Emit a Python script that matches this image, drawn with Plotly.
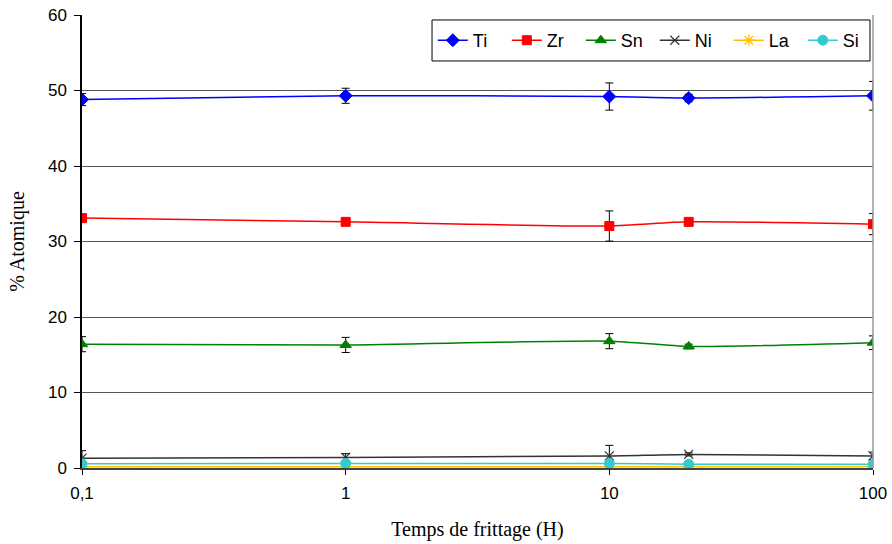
import plotly.graph_objects as go

times = [0.1, 1, 10, 20, 100]

ti = [48.8, 49.3, 49.2, 49.0, 49.3]
ti_err = [0.8, 1.0, 1.8, 0.5, 1.9]
zr = [33.1, 32.6, 32.05, 32.6, 32.3]
zr_err = [0.3, 0.3, 2.0, 0.3, 1.4]
sn = [16.4, 16.3, 16.8, 16.1, 16.6]
sn_err = [1.0, 1.0, 1.0, 0.3, 0.9]
ni = [1.3, 1.4, 1.6, 1.8, 1.6]
ni_err = [1.0, 0.5, 1.4, 0.2, 0.5]
la = [0.15, 0.15, 0.15, 0.15, 0.15]
la_err = [0.2, 0.2, 0.2, 0.2, 0.2]
si = [0.55, 0.6, 0.6, 0.5, 0.5]
si_err = [0.1, 0.1, 0.1, 0.1, 0.1]

x_tickvals = [0.1, 1, 10, 100]
x_ticktext = ["0,1", "1", "10", "100"]
y_tickvals = [0, 10, 20, 30, 40, 50, 60]

series = [
    ("Ti", ti, ti_err, "#0000FF", "diamond", 10, 1),
    ("Zr", zr, zr_err, "#FF0000", "square", 9, 1),
    ("Sn", sn, sn_err, "#008000", "triangle-up", 10, 1),
    ("Ni", ni, ni_err, "#333333", "x-thin-open", 9, 1.2),
    ("La", la, la_err, "#FFC000", "asterisk-open", 10, 1.2),
    ("Si", si, si_err, "#33CCCC", "circle", 10, 1),
]

fig = go.Figure()
for name, vals, errs, color, sym, size, lw in series:
    fig.add_trace(go.Scatter(
        x=times, y=vals, name=name, mode="lines+markers",
        line=dict(color=color, width=1.5, shape="spline", smoothing=0.6),
        marker=dict(symbol=sym, size=size, color=color, line=dict(color=color, width=lw)),
        error_y=dict(type="data", array=errs, visible=True, color="black", thickness=1, width=4),
    ))

# right border of plot area
fig.add_shape(type="line", xref="paper", yref="paper", x0=1, x1=1, y0=0, y1=1,
              line=dict(color="#999999", width=1.5))
# legend frame
fig.add_shape(type="rect", xref="paper", yref="paper", x0=0.4425, x1=0.9962, y0=0.8985, y1=0.989,
              line=dict(color="black", width=1), fillcolor="white", layer="above")

fig.update_layout(
    width=892, height=544,
    margin=dict(l=82, r=19, t=15, b=76, autoexpand=False),
    paper_bgcolor="white", plot_bgcolor="white",
    showlegend=True,
    legend=dict(orientation="h", x=0.4435, y=0.9437, xanchor="left", yanchor="middle",
                borderwidth=0, bgcolor="rgba(0,0,0,0)",
                font=dict(family="Liberation Sans, Arial", size=18, color="black"),
                itemwidth=30, entrywidth=29, entrywidthmode="pixels"),
    font=dict(family="Liberation Sans, Arial", size=17, color="black"),
)
fig.update_xaxes(
    type="log", range=[-1, 2], tickvals=x_tickvals, ticktext=x_ticktext,
    showgrid=False, showline=True, linecolor="#444444", linewidth=1.5,
    ticks="outside", ticklen=5, tickcolor="black", automargin=False,
    ticklabelstandoff=4, ticklabeloverflow="allow",
    tickfont=dict(family="Liberation Sans, Arial", size=17),
    title=dict(text="Temps de frittage (H)", font=dict(family="Liberation Serif, Times New Roman", size=20), standoff=20),
    zeroline=False,
)
fig.update_yaxes(
    range=[0, 60], tickvals=y_tickvals,
    showgrid=True, gridcolor="#555555", gridwidth=1,
    showline=True, linecolor="black", linewidth=1.5,
    ticks="outside", ticklen=6, tickcolor="black", automargin=False,
    ticklabelstandoff=4, ticklabeloverflow="allow",
    tickfont=dict(family="Liberation Sans, Arial", size=17),
    title=dict(text="% Atomique", font=dict(family="Liberation Serif, Times New Roman", size=20), standoff=18),
    zeroline=False,
)

fig.write_html("out.html", config={"displayModeBar": False},
               post_script="document.body.style.margin='0';document.body.style.overflow='hidden';")
